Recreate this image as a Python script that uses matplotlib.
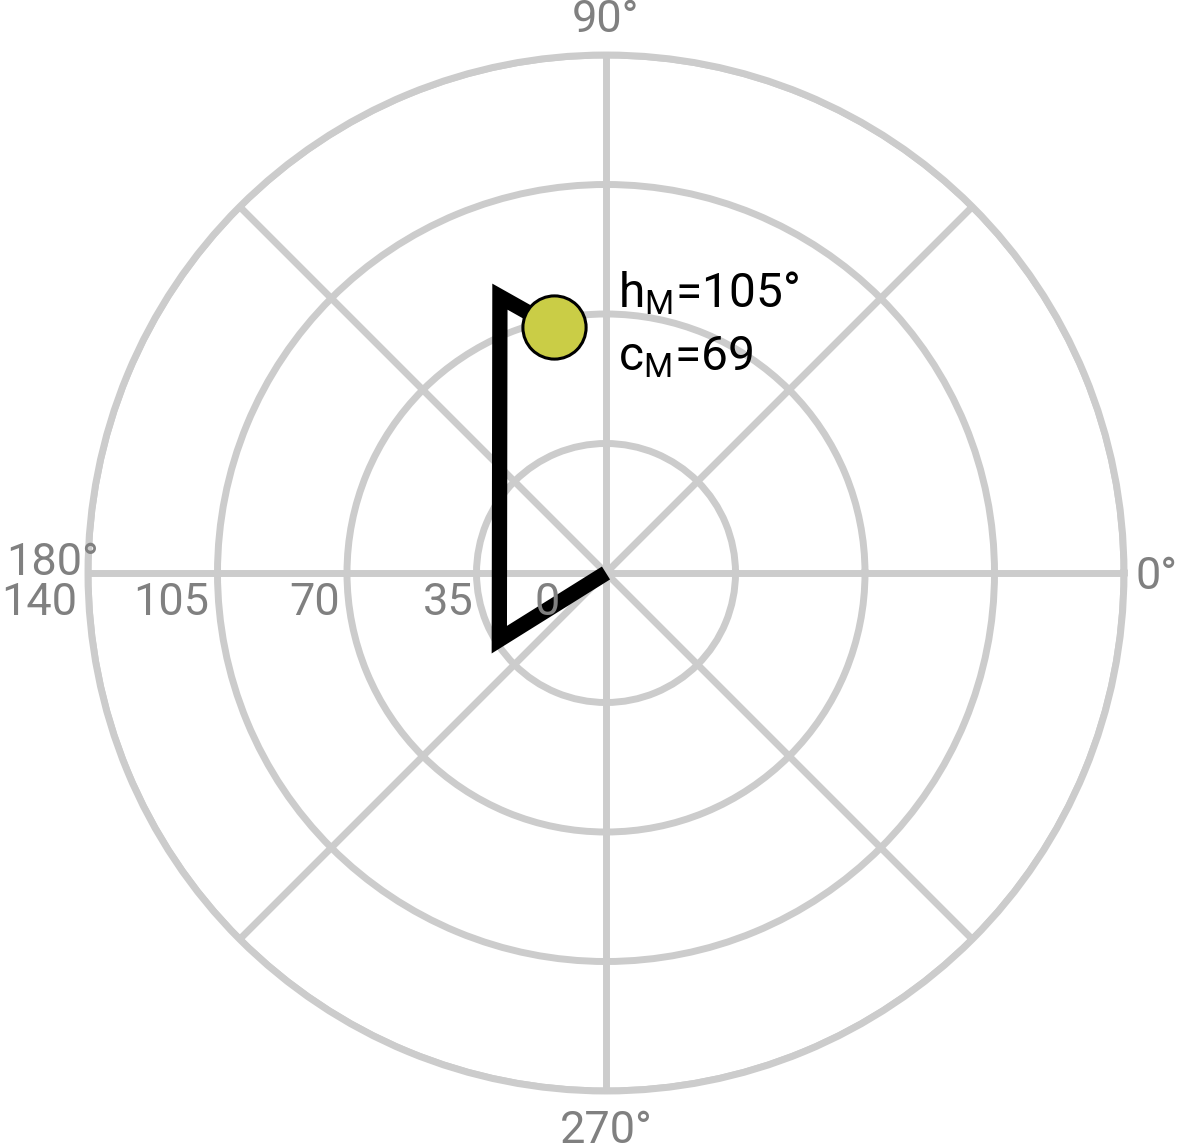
import numpy as np
import matplotlib
matplotlib.use("Agg")
import matplotlib.pyplot as plt

plt.rcParams['font.family'] = ['Roboto', 'DejaVu Sans']
plt.rcParams['mathtext.fontset'] = 'custom'
plt.rcParams['mathtext.rm'] = 'Roboto'
plt.rcParams['mathtext.it'] = 'Roboto'

# Data
path_theta_deg = [0, 212, 111, 102]
path_r = [0, 34, 80, 68]
point_theta_deg = 102
point_r = 68
hue_label = "h$_\\mathrm{M}$=105°"
chroma_label = "c$_\\mathrm{M}$=69"
r_ticks = [0, 35, 70, 105, 140]
r_tick_labels = ["0", "35", "70", "105", "140"]
theta_label_angles = [0, 90, 180, 270]
theta_label_texts = ["0°", "90°", "180°", "270°"]

GRID = "#cccccc"
LABEL = "#808080"

fig = plt.figure(figsize=(11.79, 11.46), dpi=100)
ax = fig.add_axes([88/1179, (573-518)/1146, 1036/1179, 1036/1146], projection='polar')
ax.set_ylim(0, 140)
ax.set_yticks(r_ticks[1:])
ax.set_yticklabels([])
ax.set_xticks(np.deg2rad(np.arange(0, 360, 45)))
ax.set_xticklabels([])
ax.grid(True, color=GRID, linewidth=5)
ax.spines['polar'].set_color(GRID)
ax.spines['polar'].set_linewidth(5)
ax.tick_params(length=0)

ax.plot(np.deg2rad(path_theta_deg), path_r, color='black', linewidth=11,
        solid_capstyle='butt', solid_joinstyle='miter', zorder=3)
ax.plot(np.deg2rad(point_theta_deg), point_r, 'o', markersize=45.5,
        markerfacecolor='#cacd46', markeredgecolor='black', markeredgewidth=2.2,
        zorder=4, clip_on=False)

fs_gray = 32.5
# radial labels (right edges relative to ring positions)
r_offsets = {0: -46, 35: -3, 70: -7, 105: -8, 140: -11}
for v, t in zip(r_ticks, r_tick_labels):
    ax.annotate(t, xy=(np.pi, v), xytext=(r_offsets[v], -42), textcoords='offset pixels',
                ha='right', va='baseline', color=LABEL, fontsize=fs_gray,
                annotation_clip=False)

# angular labels
theta_specs = {0: ((11, -16), 'left'), 90: ((0, 23), 'center'),
               180: ((11, -2), 'right'), 270: ((0, -52), 'center')}
for a, t in zip(theta_label_angles, theta_label_texts):
    off, ha = theta_specs[a]
    ax.annotate(t, xy=(np.deg2rad(a), 140), xytext=off, textcoords='offset pixels',
                ha=ha, va='baseline', color=LABEL, fontsize=fs_gray,
                annotation_clip=False)

fs_blk = 34.5
ax.annotate(hue_label, xy=(np.deg2rad(point_theta_deg), point_r), xytext=(64, 20),
            textcoords='offset pixels', ha='left', va='baseline', color='black',
            fontsize=fs_blk, annotation_clip=False, zorder=5)
ax.annotate(chroma_label, xy=(np.deg2rad(point_theta_deg), point_r), xytext=(64, -43),
            textcoords='offset pixels', ha='left', va='baseline', color='black',
            fontsize=fs_blk, annotation_clip=False, zorder=5)

fig.savefig("out.png", dpi=100)
